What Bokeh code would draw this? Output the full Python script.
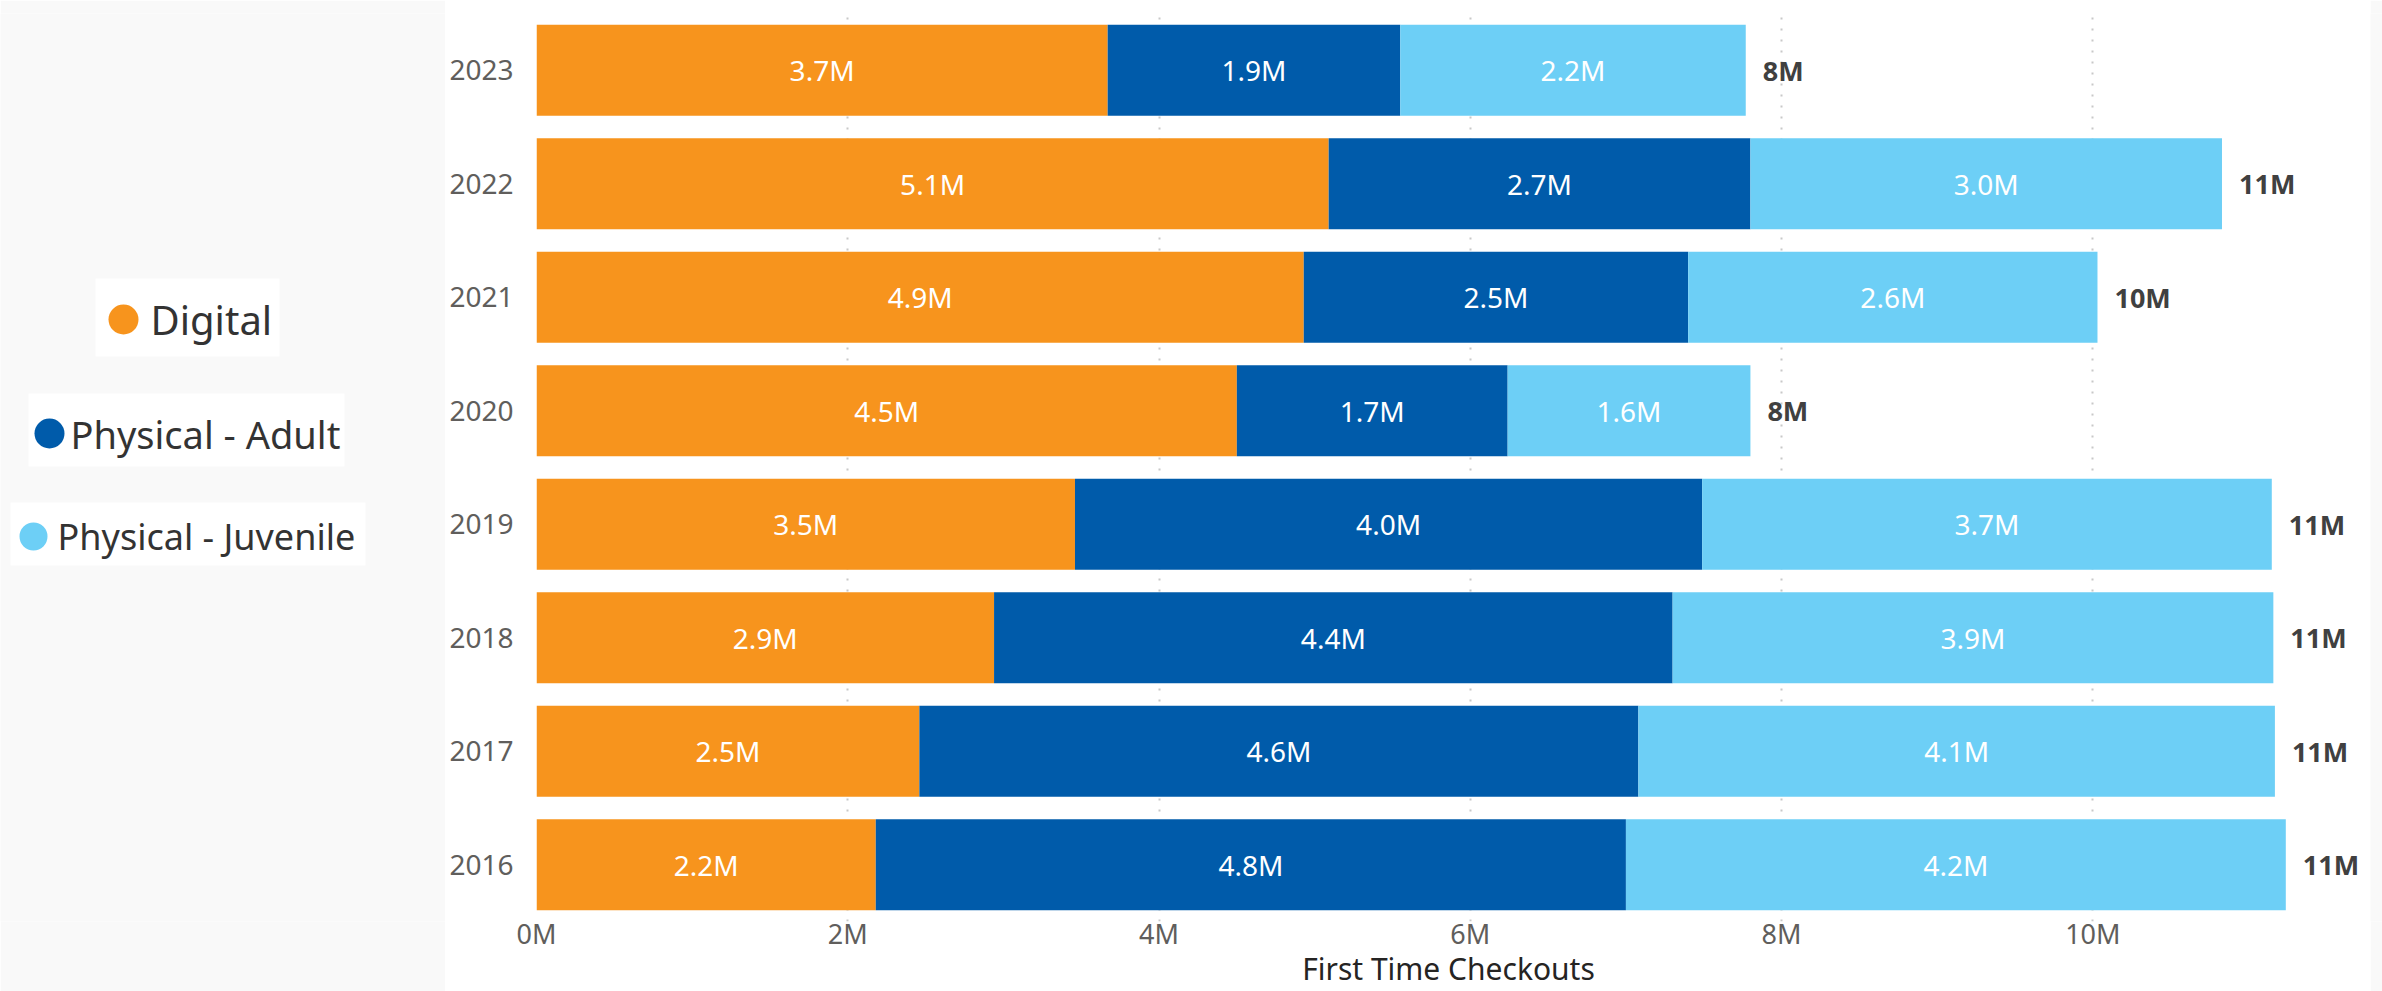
from bokeh.plotting import figure
from bokeh.models import ColumnDataSource, FactorRange, Range1d, FixedTicker, PrintfTickFormatter
from bokeh.layouts import row
from bokeh.core.properties import value
from bokeh.embed import file_html
from bokeh.resources import INLINE

# ---------------- data ----------------
years = ["2016", "2017", "2018", "2019", "2020", "2021", "2022", "2023"]
digital = [2.18, 2.46, 2.94, 3.46, 4.50, 4.93, 5.09, 3.67]
adult = [4.82, 4.62, 4.36, 4.03, 1.74, 2.47, 2.71, 1.88]
juvenile = [4.24, 4.09, 3.86, 3.66, 1.56, 2.63, 3.03, 2.22]
series = ["Digital", "Physical - Adult", "Physical - Juvenile"]
colors = ["#F7941D", "#005BAA", "#6DCFF6"]
x_ticks = [0, 2, 4, 6, 8, 10]
x_title = "First Time Checkouts"

FONT = value("Noto Sans")
BG = "#F9F9F9"
H = 991
TOP = 13
BOTTOM = 70

# ---------------- main chart ----------------
data = {"year": years, series[0]: digital, series[1]: adult, series[2]: juvenile}
src = ColumnDataSource(data)

p = figure(y_range=FactorRange(factors=years), x_range=Range1d(0, 11.72),
           width=1925, height=H, min_border_left=91, min_border_right=10,
           min_border_top=TOP, min_border_bottom=BOTTOM,
           output_backend="svg", toolbar_location=None)
p.background_fill_color = "white"
p.border_fill_color = "white"
p.outline_line_color = None

p.hbar_stack(series, y="year", height=0.8, color=colors, line_color=None, source=src)

# segment labels
lx, ly, lt = [], [], []
for i, y in enumerate(years):
    start = 0.0
    for vals in (digital, adult, juvenile):
        v = vals[i]
        lx.append(start + v / 2.0)
        ly.append(y)
        lt.append(f"{v:.1f}M")
        start += v
p.text(x="x", y="y", text="t", source=ColumnDataSource(dict(x=lx, y=ly, t=lt)),
       text_align="center", text_baseline="middle", text_color="white",
       text_font=FONT, text_font_size="28px")

# totals
totals = [d + a + j for d, a, j in zip(digital, adult, juvenile)]
tl = [f"{round(t):d}M" for t in totals]
p.text(x="x", y="y", text="t", source=ColumnDataSource(dict(x=totals, y=years, t=tl)),
       x_offset=17, text_align="left", text_baseline="middle", text_color="#404040",
       text_font=FONT, text_font_size="27px", text_font_style="bold")

# axes
p.xaxis.ticker = FixedTicker(ticks=x_ticks)
p.xaxis.formatter = PrintfTickFormatter(format="%dM")
p.xaxis.axis_line_color = None
p.xaxis.major_tick_line_color = None
p.xaxis.minor_tick_line_color = None
p.xaxis.major_label_text_font = "Noto Sans"
p.xaxis.major_label_text_font_size = "27px"
p.xaxis.major_label_text_color = "#605E5C"
p.xaxis.major_label_standoff = -13
p.xaxis.axis_label = x_title
p.xaxis.axis_label_text_font = "Noto Sans"
p.xaxis.axis_label_text_font_size = "30px"
p.xaxis.axis_label_text_font_style = "normal"
p.xaxis.axis_label_text_color = "#252423"
p.xaxis.axis_label_standoff = -7

p.yaxis.axis_line_color = None
p.yaxis.major_tick_line_color = None
p.yaxis.minor_tick_line_color = None
p.yaxis.major_label_text_font = "Noto Sans"
p.yaxis.major_label_text_font_size = "28px"
p.yaxis.major_label_text_color = "#605E5C"
p.yaxis.major_label_standoff = 17

p.ygrid.grid_line_color = None
p.xgrid.ticker = FixedTicker(ticks=x_ticks)
p.xgrid.grid_line_color = "#C8C8C8"
p.xgrid.grid_line_dash = "2 9"
p.xgrid.grid_line_width = 2

# ---------------- legend panel ----------------
# frame of this panel is aligned with the chart frame: y range in page pixels
lg = figure(width=445, height=H, x_range=Range1d(0, 445), y_range=Range1d(H - BOTTOM, TOP),
            min_border_left=0, min_border_right=0, min_border_top=TOP, min_border_bottom=BOTTOM,
            output_backend="svg", toolbar_location=None)
lg.axis.visible = False
lg.grid.visible = False
lg.outline_line_color = None
lg.background_fill_color = BG
lg.border_fill_color = BG

box_l = [95, 28, 10]
box_r = [279, 344, 365]
box_t = [278, 393, 502]
box_b = [356, 466, 565]
dot_x = [123, 49, 33]
dot_y = [319, 433, 536]
dot_s = [30, 30, 28]
txt_x = [150, 70, 57]
txt_s = ["40px", "38px", "36px"]

lg.quad(left=box_l, right=box_r, top=box_t, bottom=box_b, fill_color="white", line_color=None)
lg.scatter(x=dot_x, y=dot_y, size=dot_s, color=colors, line_color=None)
for i in range(3):
    lg.text(x=[txt_x[i]], y=[dot_y[i]], text=[series[i]], text_align="left",
            text_baseline="middle", text_color="#333333", text_font=FONT,
            text_font_size=txt_s[i])

# right gray strip
rs = figure(width=12, height=H, min_border_left=0, min_border_right=0,
            min_border_top=TOP, min_border_bottom=BOTTOM,
            output_backend="svg", toolbar_location=None)
rs.axis.visible = False
rs.grid.visible = False
rs.outline_line_color = None
rs.background_fill_color = BG
rs.border_fill_color = BG
rs.scatter(x=[0], y=[0], size=0, alpha=0)

layout = row(lg, p, rs, spacing=0)
open("out.html", "w").write(file_html(layout, INLINE))
